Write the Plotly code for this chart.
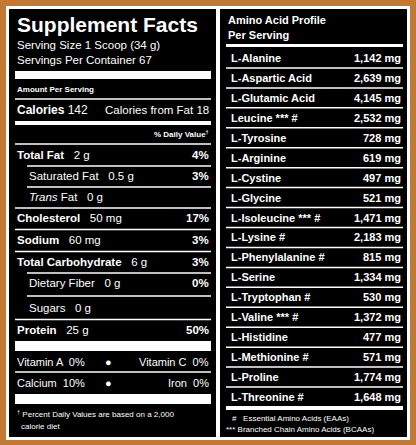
import plotly.graph_objects as go

# left panel data
nutrients = ['Total Fat', 'Saturated Fat', 'Trans Fat', 'Cholesterol', 'Sodium',
             'Total Carbohydrate', 'Dietary Fiber', 'Sugars', 'Protein']
amounts = ['2 g', '0.5 g', '0 g', '50 mg', '60 mg', '6 g', '0 g', '0 g', '25 g']
daily_values = ['4%', '3%', '', '17%', '3%', '3%', '0%', '', '50%']
indented = [False, True, True, False, False, False, True, True, False]
nutrient_y = [155, 176, 197, 218, 240, 262, 283, 308, 330]

# right panel data
amino_acids = ['L-Alanine', 'L-Aspartic Acid', 'L-Glutamic Acid', 'Leucine *** #', 'L-Tyrosine',
               'L-Arginine', 'L-Cystine', 'L-Glycine', 'L-Isoleucine *** #', 'L-Lysine #',
               'L-Phenylalanine #', 'L-Serine', 'L-Tryptophan #', 'L-Valine *** #', 'L-Histidine',
               'L-Methionine #', 'L-Proline', 'L-Threonine #']
amino_mg = [1142, 2639, 4145, 2532, 728, 619, 497, 521, 1471, 2183,
            815, 1334, 530, 1372, 477, 571, 1774, 1648]

FONT = 'Liberation Sans, Arial, sans-serif'
W = 'white'
fig = go.Figure()
shapes = []
ann = []


def rect(x0, y0, x1, y1, color):
    shapes.append(dict(type='rect', x0=x0, y0=y0, x1=x1, y1=y1, fillcolor=color, line_width=0, layer='below'))


def hline(x0, x1, y, w=1.5):
    shapes.append(dict(type='line', x0=x0, x1=x1, y0=y, y1=y, line=dict(color=W, width=w)))


def txt(x, y, s, size=11, bold=False, anchor='left'):
    if bold:
        s = '<b>' + s + '</b>'
    ann.append(dict(x=x, y=y, text=s, showarrow=False, xanchor=anchor, yanchor='middle',
                    font=dict(family=FONT, size=size, color=W)))


# background and frames
rect(0, 0, 416, 445, '#c07a35')
rect(6, 6, 410, 440, W)
rect(9, 9, 216, 437, 'black')
rect(220, 9, 407, 437, 'black')

L0, L1 = 15, 211
txt(L0, 24, 'Supplement Facts', 21, True)
txt(L0, 45, 'Serving Size 1 Scoop (34 g)', 11.5)
txt(L0, 60, 'Servings Per Container 67', 11.5)
rect(L0, 71, L1, 79, W)
txt(L0, 89, 'Amount Per Serving', 8, True)
hline(L0, L1, 99)
txt(L0, 110, '<b>Calories</b> 142', 12)
txt(L1, 110, 'Calories from Fat 18', 11.5, anchor='right')
rect(L0, 121, L1, 125, W)
txt(L1, 134, '% Daily Value<sup>†</sup>', 8, True, anchor='right')
hline(L0, L1, 144)

for i, name in enumerate(nutrients):
    y = nutrient_y[i]
    x = 27 if indented[i] else L0
    label = name if indented[i] else '<b>' + name + '</b>'
    if name == 'Trans Fat':
        label = '<i>Trans</i> Fat'
    txt(x, y, label + '   ' + amounts[i], 11.5)
    if daily_values[i]:
        txt(L1, y, daily_values[i], 11.5, True, anchor='right')
    if i < len(nutrients) - 1:
        nxt = indented[i + 1]
        hline(27 if nxt else L0, L1, (y + nutrient_y[i + 1]) / 2 + 0.5)

rect(L0, 341, L1, 351, W)
txt(L0, 362, 'Vitamin A  0%', 11)
txt(108, 362, '●', 11, anchor='center')
txt(L1, 362, 'Vitamin C  0%', 11, anchor='right')
hline(L0, L1, 372)
txt(L0, 383, 'Calcium  10%', 11)
txt(108, 383, '●', 11, anchor='center')
txt(L1, 383, 'Iron  0%', 11, anchor='right')
rect(L0, 394, L1, 404, W)
txt(L0, 414, '<sup>†</sup> Percent Daily Values are based on a 2,000', 8)
txt(19, 426, 'calorie diet', 8)

# right panel
R0, R1 = 226, 403
txt(R0, 20, 'Amino Acid Profile', 11, True)
txt(R0, 35, 'Per Serving', 11, True)
rect(R0, 44, R1, 47, W)
step = (397 - 58) / (len(amino_acids) - 1)
for i, name in enumerate(amino_acids):
    y = 58 + i * step
    txt(R0 + 3, y, name, 11, True)
    txt(R1, y, f'{amino_mg[i]:,} mg', 11, True, anchor='right')
    if i < len(amino_acids) - 1:
        hline(R0, R1, y + step / 2, 1.5)
rect(R0, 406, R1, 410, W)
txt(R0 + 4, 418, '#   Essential Amino Acids (EAAs)', 8)
txt(R0 - 2, 429, '*** Branched Chain Amino Acids (BCAAs)', 8)

fig.update_layout(
    width=416, height=445, margin=dict(l=0, r=0, t=0, b=0),
    paper_bgcolor='#c07a35', plot_bgcolor='#c07a35',
    xaxis=dict(range=[0, 416], visible=False, fixedrange=True),
    yaxis=dict(range=[445, 0], visible=False, fixedrange=True),
    shapes=shapes, annotations=ann, showlegend=False,
)
fig.write_html('out.html', config={'displayModeBar': False},
               post_script="document.body.style.margin='0';document.body.style.overflow='hidden';")
